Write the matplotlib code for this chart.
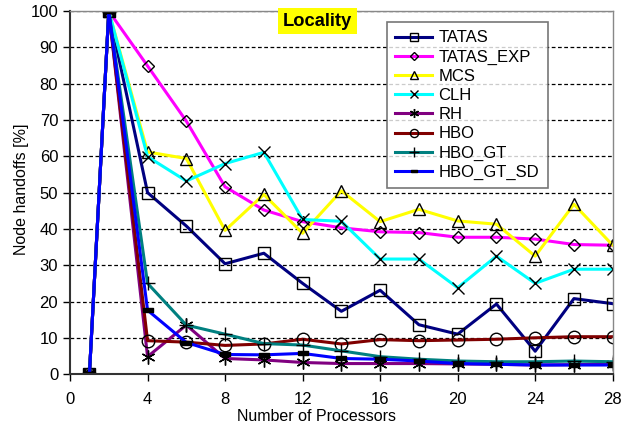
import matplotlib
matplotlib.use("Agg")
import matplotlib.pyplot as plt

plt.rcParams['font.family'] = ['Liberation Sans', 'DejaVu Sans']

procs = [1, 2, 4, 6, 8, 10, 12, 14, 16, 18, 20, 22, 24, 26, 28]

tatas     = [0, 100, 50.0, 40.8, 30.4, 33.3, 25.0, 17.3, 23.1, 13.6, 11.0, 19.3, 6.3, 20.8, 19.4]
tatas_exp = [0, 100, 84.9, 69.7, 51.6, 45.2, 42.0, 40.3, 39.2, 39.0, 37.7, 37.7, 37.2, 35.7, 35.5]
mcs       = [0, 100, 61.2, 59.4, 39.6, 49.5, 38.8, 50.5, 42.0, 45.4, 42.2, 41.3, 32.5, 46.8, 35.5]
clh       = [0, 100, 59.9, 53.2, 58.0, 61.1, 42.6, 42.1, 31.7, 31.7, 23.8, 32.5, 25.0, 28.9, 28.9]
rh        = [0, 100, 4.8, 13.5, 4.3, 3.9, 3.2, 2.9, 2.9, 2.9, 2.8, 2.7, 2.5, 2.6, 2.8]
hbo       = [0, 100, 9.2, 8.8, 7.9, 8.3, 9.6, 8.3, 9.5, 9.2, 9.4, 9.6, 10.0, 10.3, 10.3]
hbo_gt    = [0, 100, 25.0, 13.5, 11.0, 8.4, 8.0, 6.4, 4.8, 4.1, 3.6, 3.4, 3.4, 3.6, 3.4]
hbo_gt_sd = [0, 100, 17.6, 8.7, 5.4, 5.3, 5.7, 4.3, 4.1, 3.6, 2.9, 2.7, 2.5, 2.5, 2.5]

labels = ["TATAS", "TATAS_EXP", "MCS", "CLH", "RH", "HBO", "HBO_GT", "HBO_GT_SD"]
series = [tatas, tatas_exp, mcs, clh, rh, hbo, hbo_gt, hbo_gt_sd]
colors = ["#000080", "#FF00FF", "#FFFF00", "#00FFFF", "#800080", "#800000", "#008080", "#0000FF"]
dash = [(-1, -0.45), (1, -0.45), (1, 0.45), (-1, 0.45), (-1, -0.45)]
markers = ["s", "D", "^", "x", (6, 2, 0), "o", "+", dash]
msizes = [9, 6, 9, 9, 10, 9, 10, 7]
mfaces = ["none", "none", "none", "none", "none", "none", "none", "black"]

fig = plt.figure(figsize=(6.31, 4.29), dpi=100)
ax = fig.add_axes([0.111, 0.128, 0.860, 0.846])

for y, lab, c, m, ms, mf in zip(series, labels, colors, markers, msizes, mfaces):
    ax.plot(procs, y, color=c, lw=2.2, marker=m, markersize=ms,
            markerfacecolor=mf, markeredgecolor="black", markeredgewidth=1.0,
            label=lab)

ax.set_xlim(0, 28)
ax.set_ylim(0, 100)
ax.set_xticks(range(0, 29, 4))
ax.set_yticks(range(0, 101, 10))
ax.yaxis.grid(True, linestyle=(0, (3, 2)), color="black", lw=0.9)
ax.set_axisbelow(True)
ax.tick_params(direction="out", length=5, width=1, labelsize=12, colors="black")
ax.tick_params(axis="x", pad=8)
for s in ["left", "bottom"]:
    ax.spines[s].set_color("#333333")
    ax.spines[s].set_linewidth(1.5)
for s in ["top", "right"]:
    ax.spines[s].set_color("#888888")
    ax.spines[s].set_linewidth(1.0)

ax.set_xlabel("Number of Processors", fontsize=11.5)
ax.xaxis.set_label_coords(0.455, -0.095)
ax.set_ylabel("Node handoffs [%]", fontsize=11.5)
ax.yaxis.set_label_coords(-0.075, 0.51)

leg = ax.legend(loc="upper right", bbox_to_anchor=(0.880, 0.970), fontsize=12,
                frameon=True, fancybox=False, edgecolor="#555555",
                handlelength=2.2, handletextpad=0.4, borderpad=0.5,
                labelspacing=0.25, borderaxespad=0, markerscale=0.65)
leg.get_frame().set_linewidth(1.2)

ax.text(0.456, 0.972, "Locality", transform=ax.transAxes, fontsize=13.2,
        fontweight="bold", ha="center", va="center",
        bbox=dict(boxstyle="square,pad=0.25", facecolor="#FFFF00", edgecolor="none"))

fig.savefig("out.png", dpi=100)
